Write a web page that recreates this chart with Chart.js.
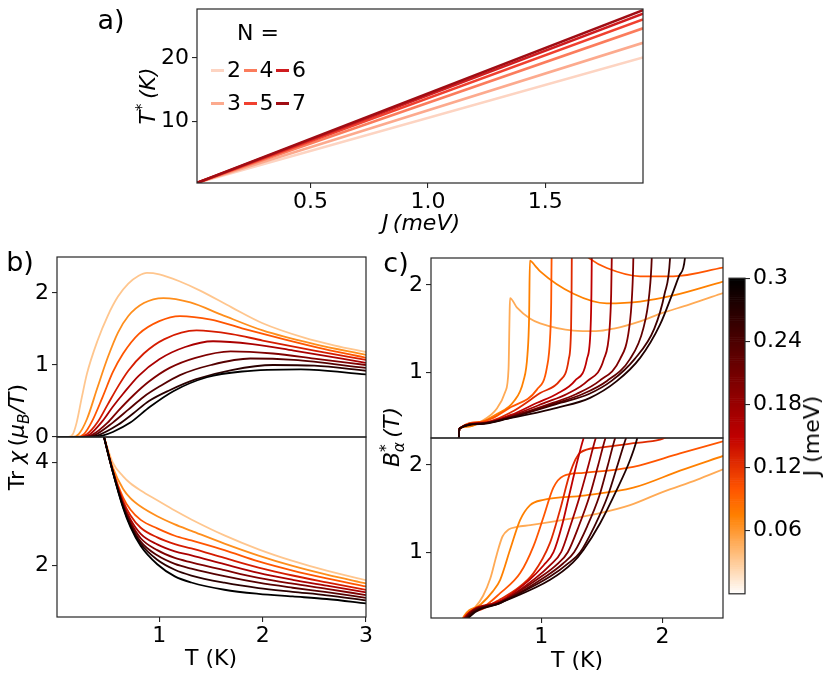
<!DOCTYPE html>
<html><head><meta charset="utf-8">
<script src="https://cdn.jsdelivr.net/npm/chart.js@4.4.1/dist/chart.umd.min.js"></script>
<style>
html,body{margin:0;padding:0;background:#fff;}
#fig{position:relative;width:831px;height:683px;overflow:hidden;font-family:'DejaVu Sans',sans-serif;color:#000;background:#fff;}
canvas{position:absolute;}
.lbl{position:absolute;white-space:nowrap;transform:translate(-50%,-50%);font-size:22px;line-height:1;}
.rot{transform:translate(-50%,-50%) rotate(-90deg);}
.pan{font-size:27px;}
.it{font-style:italic;}
sub,sup{font-size:70%;line-height:0;}
</style></head><body><div id="fig"></div>
<script>
// ---------------- DATA ----------------
// panel a: T*(K) vs J (meV) for chain length N
const aN = [2, 3, 4, 5, 6, 7];
const aJ = [0.016, 1.916];
const aTstar = [
  [0.3, 20.1], [0.3, 22.4], [0.3, 24.7], [0.3, 26.1], [0.3, 27.0], [0.3, 27.55]
];
const aXTicks = [0.5, 1.0, 1.5];
const aYTicks = [10, 20];

// panel b: J values (meV) of the curves
const bJ = [1/30, 2/30, 3/30, 4/30, 5/30, 6/30, 7/30, 8/30, 9/30];
// b upper: Tr chi vs T, [T, value] pairs
const bUp = [
 [[0.01,0],[0.12,0],[0.16,0.03],[0.2,0.2],[0.25,0.55],[0.3,0.88],[0.4,1.33],[0.5,1.68],[0.6,1.95],[0.7,2.13],[0.8,2.24],[0.88,2.28],[1.0,2.26],[1.2,2.16],[1.4,2.03],[1.7,1.8],[2.0,1.58],[2.4,1.38],[2.7,1.27],[3.0,1.18]],
 [[0.01,0],[0.16,0],[0.22,0.04],[0.3,0.25],[0.4,0.68],[0.5,1.1],[0.6,1.45],[0.7,1.68],[0.85,1.86],[1.04,1.93],[1.3,1.87],[1.6,1.7],[2.0,1.48],[2.5,1.29],[3.0,1.14]],
 [[0.01,0],[0.2,0],[0.27,0.04],[0.35,0.22],[0.45,0.55],[0.55,0.9],[0.65,1.16],[0.8,1.43],[1.0,1.61],[1.2,1.68],[1.5,1.63],[1.8,1.51],[2.2,1.36],[2.6,1.22],[3.0,1.10]],
 [[0.01,0],[0.22,0],[0.3,0.04],[0.4,0.2],[0.5,0.45],[0.6,0.7],[0.7,0.92],[0.85,1.16],[1.05,1.36],[1.36,1.48],[1.7,1.43],[2.0,1.34],[2.5,1.2],[3.0,1.07]],
 [[0.01,0],[0.25,0],[0.33,0.04],[0.45,0.22],[0.55,0.42],[0.65,0.6],[0.8,0.85],[1.0,1.08],[1.25,1.25],[1.52,1.33],[1.9,1.29],[2.3,1.2],[3.0,1.03]],
 [[0.01,0],[0.27,0],[0.35,0.03],[0.5,0.2],[0.6,0.36],[0.75,0.58],[0.9,0.77],[1.1,0.96],[1.35,1.1],[1.69,1.19],[2.1,1.16],[2.5,1.09],[3.0,1.0]],
 [[0.01,0],[0.3,0],[0.38,0.03],[0.55,0.2],[0.7,0.38],[0.85,0.56],[1.0,0.7],[1.2,0.86],[1.5,1.0],[1.88,1.09],[2.3,1.07],[3.0,0.96]],
 [[0.01,0],[0.32,0],[0.4,0.02],[0.6,0.17],[0.75,0.33],[0.9,0.5],[1.1,0.65],[1.35,0.8],[1.7,0.93],[2.1,1.0],[2.5,0.99],[3.0,0.92]],
 [[0.01,0],[0.35,0],[0.45,0.02],[0.55,0.07],[0.72,0.2],[0.91,0.42],[1.14,0.64],[1.46,0.83],[1.8,0.91],[2.37,0.94],[3.0,0.87]]
];
// b lower: shared T grid and values per curve
const bLowT = [0.45, 0.465, 0.55, 0.65, 0.72, 0.82, 0.98, 1.15, 1.31, 1.63, 1.96, 2.29, 2.62, 3.0];
const bLow = [
 [4.59,4.5,4.0,3.735,3.60,3.46,3.27,3.07,2.897,2.587,2.316,2.09,1.90,1.716],
 [4.6,4.5,3.91,3.489,3.311,3.147,2.959,2.801,2.676,2.428,2.195,1.993,1.823,1.653],
 [4.61,4.5,3.865,3.323,3.09,2.888,2.723,2.58,2.49,2.302,2.082,1.904,1.752,1.594],
 [4.62,4.5,3.849,3.255,2.98,2.736,2.548,2.417,2.333,2.148,1.961,1.807,1.675,1.529],
 [4.62,4.5,3.84,3.212,2.903,2.618,2.412,2.276,2.198,2.027,1.857,1.724,1.609,1.477],
 [4.62,4.5,3.833,3.182,2.852,2.531,2.300,2.148,2.063,1.911,1.762,1.648,1.548,1.426],
 [4.63,4.5,3.827,3.157,2.81,2.466,2.2,2.033,1.941,1.794,1.667,1.569,1.482,1.373],
 [4.63,4.5,3.824,3.138,2.78,2.423,2.113,1.918,1.806,1.667,1.563,1.49,1.422,1.324],
 [4.63,4.5,3.82,3.12,2.75,2.38,2.026,1.79,1.671,1.53,1.45,1.40,1.35,1.265]
];
const bXTicks = [1, 2, 3];
const bUpYTicks = [0, 1, 2];
const bLowYTicks = [2, 4];

// panel c: J values (meV) of the curves
const cJ = [0.05, 0.075, 0.1, 0.125, 0.15, 0.175, 0.2, 0.225, 0.25, 0.275];
const cUp = [
 [[0.09,0],[0.31,0],[0.325,0.354],[0.4,0.38],[0.496,0.43],[0.634,0.583],[0.703,0.775],[0.73,1.04],[0.738,1.613],[0.742,1.85],[0.8,1.74],[0.909,1.613],[0.991,1.56],[1.266,1.477],[1.45,1.47],[1.6,1.5],[1.816,1.584],[2.0,1.68],[2.22,1.775],[2.5,1.908]],
 [[0.09,0],[0.31,0],[0.325,0.354],[0.4,0.375],[0.496,0.42],[0.634,0.52],[0.771,0.66],[0.853,0.9],[0.886,1.2],[0.9,1.65],[0.906,2.28],[0.95,2.22],[0.991,2.157],[1.266,1.9],[1.541,1.79],[1.816,1.81],[2.09,1.88],[2.5,2.04]],
 [[0.09,0],[0.31,0],[0.325,0.354],[0.5,0.43],[0.75,0.6],[0.964,0.8],[1.046,1.05],[1.073,1.4],[1.082,1.806],[1.086,2.4],[1.12,2.7],[1.25,2.5],[1.403,2.3],[1.541,2.195],[1.816,2.1],[2.09,2.1],[2.5,2.2]],
 [[0.09,0],[0.31,0],[0.325,0.354],[0.5,0.42],[0.75,0.54],[0.991,0.76],[1.152,0.9],[1.227,1.15],[1.246,1.5],[1.25,1.9],[1.252,2.31],[1.253,2.42]],
 [[0.09,0],[0.31,0],[0.325,0.354],[0.5,0.415],[0.75,0.51],[0.967,0.65],[1.127,0.75],[1.277,0.9],[1.377,1.15],[1.407,1.5],[1.414,1.9],[1.417,2.31],[1.418,2.42]],
 [[0.09,0],[0.31,0],[0.325,0.354],[0.5,0.41],[0.75,0.5],[1.032,0.65],[1.212,0.75],[1.382,0.9],[1.517,1.15],[1.564,1.5],[1.577,1.9],[1.582,2.31],[1.583,2.42]],
 [[0.09,0],[0.31,0],[0.325,0.354],[0.5,0.41],[0.75,0.49],[1.10,0.65],[1.29,0.75],[1.48,0.9],[1.65,1.15],[1.725,1.5],[1.75,1.9],[1.76,2.31],[1.761,2.42]],
 [[0.09,0],[0.31,0],[0.325,0.354],[0.5,0.41],[0.75,0.485],[1.132,0.65],[1.342,0.75],[1.542,0.9],[1.732,1.15],[1.842,1.5],[1.892,1.9],[1.912,2.31],[1.914,2.42]],
 [[0.09,0],[0.31,0],[0.325,0.354],[0.5,0.41],[0.75,0.48],[1.163,0.65],[1.393,0.75],[1.58,0.9],[1.77,1.15],[1.933,1.5],[2.018,1.9],[2.063,2.31],[2.066,2.42]],
 [[0.09,0],[0.31,0],[0.325,0.354],[0.5,0.405],[0.75,0.475],[0.991,0.545],[1.128,0.591],[1.403,0.706],[1.623,0.897],[1.816,1.164],[1.98,1.545],[2.09,1.928],[2.14,2.11],[2.186,2.31],[2.19,2.42]]
];
const cLow = [
 [[0.3,0],[0.359,0.26],[0.45,0.36],[0.52,0.5],[0.58,0.7],[0.634,0.98],[0.68,1.18],[0.73,1.26],[0.8,1.29],[0.909,1.31],[1.183,1.37],[1.458,1.44],[1.733,1.54],[2.0,1.69],[2.283,1.83],[2.5,1.95]],
 [[0.3,0],[0.362,0.26],[0.5,0.4],[0.6,0.55],[0.661,0.683],[0.743,1.03],[0.826,1.37],[0.908,1.54],[1.018,1.6],[1.348,1.65],[1.76,1.74],[2.145,1.935],[2.5,2.104]],
 [[0.3,0],[0.365,0.26],[0.5,0.35],[0.661,0.53],[0.826,0.76],[0.936,1.07],[1.018,1.4],[1.1,1.74],[1.183,1.874],[1.348,1.91],[1.76,1.98],[2.145,2.134],[2.5,2.272]],
 [[0.3,0],[0.37,0.26],[0.5,0.34],[0.661,0.46],[0.8,0.58],[0.936,0.76],[1.073,1.11],[1.156,1.49],[1.238,1.91],[1.32,2.14],[1.486,2.2],[1.76,2.25],[1.98,2.29],[2.05,2.33]],
 [[0.3,0],[0.375,0.26],[0.661,0.44],[0.9,0.68],[1.02,0.85],[1.101,1.0],[1.17,1.3],[1.23,1.65],[1.29,2.0],[1.35,2.31],[1.37,2.38]],
 [[0.3,0],[0.38,0.26],[0.661,0.43],[0.95,0.7],[1.08,0.86],[1.164,1.0],[1.24,1.3],[1.32,1.65],[1.39,2.0],[1.45,2.31],[1.47,2.38]],
 [[0.3,0],[0.385,0.26],[0.661,0.425],[1.0,0.72],[1.13,0.86],[1.219,1.0],[1.31,1.3],[1.40,1.65],[1.47,2.0],[1.53,2.31],[1.55,2.38]],
 [[0.3,0],[0.39,0.26],[0.661,0.42],[1.046,0.73],[1.18,0.87],[1.271,1.0],[1.38,1.3],[1.48,1.65],[1.55,2.0],[1.61,2.31],[1.63,2.38]],
 [[0.3,0],[0.40,0.26],[0.661,0.418],[1.073,0.72],[1.23,0.88],[1.321,1.0],[1.44,1.3],[1.55,1.65],[1.63,2.0],[1.70,2.31],[1.72,2.38]],
 [[0.3,0],[0.41,0.26],[0.661,0.416],[1.073,0.683],[1.26,0.88],[1.348,1.026],[1.486,1.332],[1.623,1.714],[1.733,2.057],[1.788,2.286],[1.8,2.36]]
];
const cXTicks = [1, 2];
const cYTicks = [1, 2];
// colorbar
const cbarMax = 0.3;
const cbarTicks = [0.06, 0.12, 0.18, 0.24, 0.3];
const cbarLabels = ['0.06', '0.12', '0.18', '0.24', '0.3'];

// ---------------- STYLE / HELPERS ----------------
const aColors = ['#fdd4c2', '#fcaa8e', '#fb7c5c', '#f0402f', '#cf1c1f', '#a00d14'];
const TICK = 22;
Chart.defaults.font.family = 'DejaVu Sans';
Chart.defaults.color = '#000';
const fig = document.getElementById('fig');

function gistHeatR(J) {
  const x = 1 - J / cbarMax;
  const cl = v => Math.round(255 * Math.min(1, Math.max(0, v)));
  return `rgb(${cl(1.5 * x)},${cl(2 * x - 1)},${cl(4 * x - 3)})`;
}

const frame = {
  id: 'frame',
  afterDraw(c) {
    const a = c.chartArea, ctx = c.ctx;
    ctx.save(); ctx.strokeStyle = '#262626'; ctx.lineWidth = 1.2;
    ctx.strokeRect(a.left, a.top, a.right - a.left, a.bottom - a.top);
    ctx.restore();
  }
};

function axes(box, o) {
  const L = 90, T = 20, R = 20, B = 50;
  const cv = document.createElement('canvas');
  const w = box.r - box.l + L + R, h = box.b - box.t + T + B;
  cv.width = w; cv.height = h;
  cv.style.left = (box.l - L) + 'px'; cv.style.top = (box.t - T) + 'px';
  cv.style.width = w + 'px'; cv.style.height = h + 'px';
  fig.appendChild(cv);
  const showX = o.xticks.length > 0;
  return new Chart(cv, {
    type: 'line',
    data: { datasets: o.datasets },
    options: {
      responsive: false, animation: false, events: [],
      layout: { padding: { left: 0, top: T, right: R, bottom: 0 } },
      plugins: { legend: { display: false }, tooltip: { enabled: false } },
      elements: { point: { radius: 0 } },
      scales: {
        x: {
          type: 'linear', min: o.xmin, max: o.xmax,
          afterFit: s => { s.height = B; },
          afterBuildTicks: s => { s.ticks = o.xticks.map(v => ({ value: v })); },
          ticks: { display: showX, font: { size: TICK }, padding: 1, maxRotation: 0, autoSkip: false,
                   callback: v => o.xfmt ? o.xfmt(v) : String(v) },
          grid: { display: true, drawOnChartArea: false, drawTicks: showX, tickLength: 5, color: '#262626', lineWidth: 1.1 },
          border: { display: false }
        },
        y: {
          type: 'linear', min: o.ymin, max: o.ymax,
          afterFit: s => { s.width = L; },
          afterBuildTicks: s => { s.ticks = o.yticks.map(v => ({ value: v })); },
          ticks: { font: { size: TICK }, padding: 3, autoSkip: false, callback: v => String(v) },
          grid: { display: true, drawOnChartArea: false, drawTicks: true, tickLength: 5, color: '#262626', lineWidth: 1.1 },
          border: { display: false }
        }
      }
    },
    plugins: [frame]
  });
}

function curveSets(curves, colors, width) {
  const n = curves.length;
  return curves.map((pts, i) => ({
    data: pts.map(p => ({ x: p[0], y: p[1] })),
    borderColor: colors[i], borderWidth: width, fill: false,
    cubicInterpolationMode: 'monotone', pointRadius: 0, order: n - i
  }));
}

// ---------------- PANEL a ----------------
axes({ l: 197, t: 9, r: 643, b: 183 }, {
  xmin: 0.016, xmax: 1.916, ymin: 0.27, ymax: 27.74,
  xticks: aXTicks, yticks: aYTicks, xfmt: v => v.toFixed(1),
  datasets: aTstar.map((v, i) => ({
    data: [{ x: aJ[0], y: v[0] }, { x: aJ[1], y: v[1] }],
    borderColor: aColors[i], borderWidth: 2.6, fill: false, pointRadius: 0, order: aTstar.length - i
  }))
});

// ---------------- PANEL b ----------------
const bColors = bJ.map(gistHeatR);
axes({ l: 57, t: 257, r: 366, b: 437 }, {
  xmin: 0.01, xmax: 3, ymin: 0, ymax: 2.5, xticks: [], yticks: bUpYTicks,
  datasets: curveSets(bUp, bColors, 1.8)
});
axes({ l: 57, t: 437, r: 366, b: 617 }, {
  xmin: 0.01, xmax: 3, ymin: 1.0, ymax: 4.5, xticks: bXTicks, yticks: bLowYTicks,
  datasets: curveSets(bLow.map(ys => ys.map((y, k) => [bLowT[k], y])), bColors, 1.8)
});

// ---------------- PANEL c ----------------
const cColors = cJ.map(gistHeatR);
axes({ l: 431, t: 258, r: 723, b: 438 }, {
  xmin: 0.09, xmax: 2.5, ymin: 0.245, ymax: 2.31, xticks: [], yticks: cYTicks,
  datasets: curveSets(cUp, cColors, 1.8)
});
axes({ l: 431, t: 438, r: 723, b: 618 }, {
  xmin: 0.09, xmax: 2.5, ymin: 0.245, ymax: 2.31, xticks: cXTicks, yticks: cYTicks,
  datasets: curveSets(cLow, cColors, 1.8)
});

// ---------------- COLORBAR ----------------
(function () {
  const box = { l: 729, t: 272, r: 745, b: 600 };
  const P = 10, R = 100;
  const cv = document.createElement('canvas');
  const w = box.r - box.l + P + R, h = box.b - box.t + 2 * P;
  cv.width = w; cv.height = h;
  cv.style.left = (box.l - P) + 'px'; cv.style.top = (box.t - P) + 'px';
  cv.style.width = w + 'px'; cv.style.height = h + 'px';
  fig.appendChild(cv);
  const grad = {
    id: 'grad',
    beforeDatasetsDraw(c) {
      const a = c.chartArea, ctx = c.ctx, ys = c.scales.y;
      const N = 150;
      for (let k = 0; k < N; k++) {
        const v0 = cbarMax * k / N, v1 = cbarMax * (k + 1) / N;
        const y0 = ys.getPixelForValue(v0), y1 = ys.getPixelForValue(v1);
        ctx.fillStyle = gistHeatR((v0 + v1) / 2);
        ctx.fillRect(a.left, y1, a.right - a.left, y0 - y1 + 0.6);
      }
    }
  };
  new Chart(cv, {
    type: 'line', data: { datasets: [] },
    options: {
      responsive: false, animation: false, events: [],
      layout: { padding: { left: P, top: P, bottom: P, right: 0 } },
      plugins: { legend: { display: false }, tooltip: { enabled: false } },
      scales: {
        x: { type: 'linear', display: false, min: 0, max: 1 },
        y: {
          type: 'linear', position: 'right', min: 0, max: cbarMax,
          afterFit: s => { s.width = R; },
          afterBuildTicks: s => { s.ticks = cbarTicks.map(v => ({ value: v })); },
          ticks: { font: { size: TICK }, padding: 3, autoSkip: false,
                   callback: (v, i) => cbarLabels[i] },
          grid: { display: true, drawOnChartArea: false, drawTicks: true, tickLength: 5, color: '#262626', lineWidth: 1.1 },
          border: { display: false }
        }
      }
    },
    plugins: [grad, frame]
  });
})();

// ---------------- TEXT ----------------
function label(html, x, y, cls) {
  const d = document.createElement('div');
  d.className = 'lbl ' + (cls || '');
  d.innerHTML = html;
  d.style.left = x + 'px'; d.style.top = y + 'px';
  fig.appendChild(d);
}
label('a)', 111, 19, 'pan');
label('b)', 20, 261, 'pan');
label('c)', 396, 262, 'pan');
label('<span class="it">J</span>&#8201;<span class="it">(meV)</span>', 421, 223);
label('<span class="it">T</span><sup>*</sup>&#8201;<span class="it">(K)</span>', 148, 96, 'rot');
label('Tr <span class="it">χ</span>&#8201;(<span class="it">μ<sub>B</sub>/T</span>)', 17, 437, 'rot');
label('T (K)', 211, 658);
label('T (K)', 577, 660);
label('<span class="it">B</span><sup>*</sup><sub class="it" style="margin-left:-8px">α</sub>&#8201;<span class="it">(T)</span>', 392, 437, 'rot');
label('J (meV)', 812, 436, 'rot');

// legend of panel a
label('N =', 258, 33);
aN.forEach((n, i) => {
  const col = Math.floor(i / 2), row = i % 2;
  const x0 = 211 + col * 32.5, y0 = row === 0 ? 70 : 103;
  const h = document.createElement('div');
  h.style.cssText = `position:absolute;left:${x0}px;top:${y0 - 1.5}px;width:13px;height:3px;background:${aColors[i]};`;
  fig.appendChild(h);
  label(String(n), x0 + 23, y0);
});
</script></body></html>
